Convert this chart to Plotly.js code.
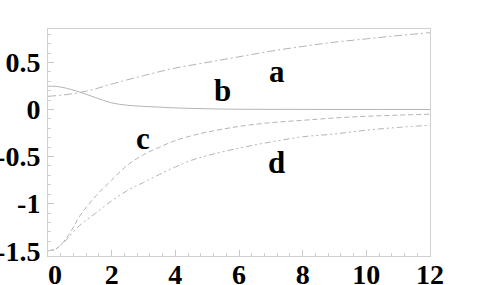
<!DOCTYPE html>
<html>
<head>
<meta charset="utf-8">
<script src="https://cdn.plot.ly/plotly-3.0.1.min.js"></script>
<style>html,body{margin:0;padding:0;background:#fff;}#chart{width:478px;height:285px;}</style>
</head>
<body>
<div id="chart"></div>
<script>
var xA = [0, 0.5, 1, 1.5, 2, 3, 4, 5, 6, 7, 8, 9, 10, 11, 12];
var yA = [0.14, 0.155, 0.18, 0.22, 0.27, 0.36, 0.44, 0.5, 0.56, 0.62, 0.67, 0.715, 0.75, 0.785, 0.816];

var xB = [0, 0.25, 0.5, 1, 1.5, 2, 2.5, 3, 3.5, 4, 5, 6, 8, 10, 12];
var yB = [0.247, 0.245, 0.232, 0.185, 0.125, 0.07, 0.045, 0.033, 0.025, 0.017, 0.008, 0.003, 0.001, 0, 0];

var xC = [0, 0.25, 0.5, 0.75, 1, 1.5, 2, 2.5, 3, 3.5, 4, 4.5, 5, 6, 7, 8, 9, 10, 11, 12];
var yC = [-1.5, -1.48, -1.4, -1.28, -1.13, -0.92, -0.75, -0.59, -0.48, -0.4, -0.33, -0.28, -0.24, -0.18, -0.14, -0.115, -0.09, -0.072, -0.06, -0.05];

var xD = [0, 0.25, 0.5, 1, 1.5, 2, 2.5, 3, 3.5, 4, 4.5, 5, 6, 7, 8, 9, 10, 11, 12];
var yD = [-1.5, -1.48, -1.41, -1.23, -1.1, -0.97, -0.86, -0.775, -0.69, -0.61, -0.54, -0.49, -0.41, -0.345, -0.29, -0.26, -0.22, -0.19, -0.167];

var curveLabels = ["a", "b", "c", "d"];
var labelX = [7.18, 5.49, 2.98, 7.18];
var labelY = [0.406, 0.197, -0.304, -0.566];

var xTickVals = [0, 2, 4, 6, 8, 10, 12];
var xTickText = ["\u00a0\u00a00", "2", "4", "6", "8", "10", "12"];
var yTickVals = [-1.5, -1, -0.5, 0, 0.5];
var yTickText = ["-1.5", "-1", "-0.5", "0", "0.5"];

var lineColor = "#b4b4b4";
var traces = [
  {x: xA, y: yA, mode: "lines", line: {color: lineColor, width: 1, dash: "8px,3px,2px,3px", shape: "spline"}},
  {x: xB, y: yB, mode: "lines", line: {color: lineColor, width: 1, shape: "spline"}},
  {x: xC, y: yC, mode: "lines", line: {color: lineColor, width: 1, dash: "5px,3px", shape: "spline"}},
  {x: xD, y: yD, mode: "lines", line: {color: lineColor, width: 1, dash: "6px,3px,2px,3px,2px,3px", shape: "spline"}}
];

var serif = "Liberation Serif, Times New Roman, serif";
var annotations = curveLabels.map(function (t, i) {
  return {x: labelX[i], y: labelY[i], text: "<b>" + t + "</b>", showarrow: false, xref: "x", yref: "y",
    font: {family: serif, size: 31, color: "#000"}};
});

var tickFont = {family: serif, size: 28, color: "#000", weight: "bold"};
var layout = {
  width: 478, height: 285,
  margin: {l: 48, r: 48, t: 29, b: 29, pad: 0},
  paper_bgcolor: "#fff", plot_bgcolor: "#fff",
  showlegend: false,
  xaxis: {range: [0, 12], tickmode: "array", tickvals: xTickVals, ticktext: xTickText,
    ticks: "inside", ticklen: 6, tickcolor: "#c8c8c8", tickwidth: 1, ticklabelstandoff: -7,
    showline: true, linecolor: "#d0d0d0", linewidth: 1, mirror: true,
    showgrid: false, zeroline: false, tickfont: tickFont,
    minor: {dtick: 0.4, tick0: 0, ticks: "inside", ticklen: 3, tickcolor: "#d0d0d0", showgrid: false}},
  yaxis: {range: [-1.556, 0.855], tickmode: "array", tickvals: yTickVals, ticktext: yTickText,
    ticks: "inside", ticklen: 6, tickcolor: "#c8c8c8", tickwidth: 1, ticklabelstandoff: 1,
    showline: true, linecolor: "#d0d0d0", linewidth: 1, mirror: true,
    showgrid: false, zeroline: false, tickfont: tickFont,
    minor: {dtick: 0.1, tick0: 0, ticks: "inside", ticklen: 3, tickcolor: "#d0d0d0", showgrid: false}},
  annotations: annotations
};

Plotly.newPlot("chart", traces, layout, {staticPlot: true, displayModeBar: false});
</script>
</body>
</html>
